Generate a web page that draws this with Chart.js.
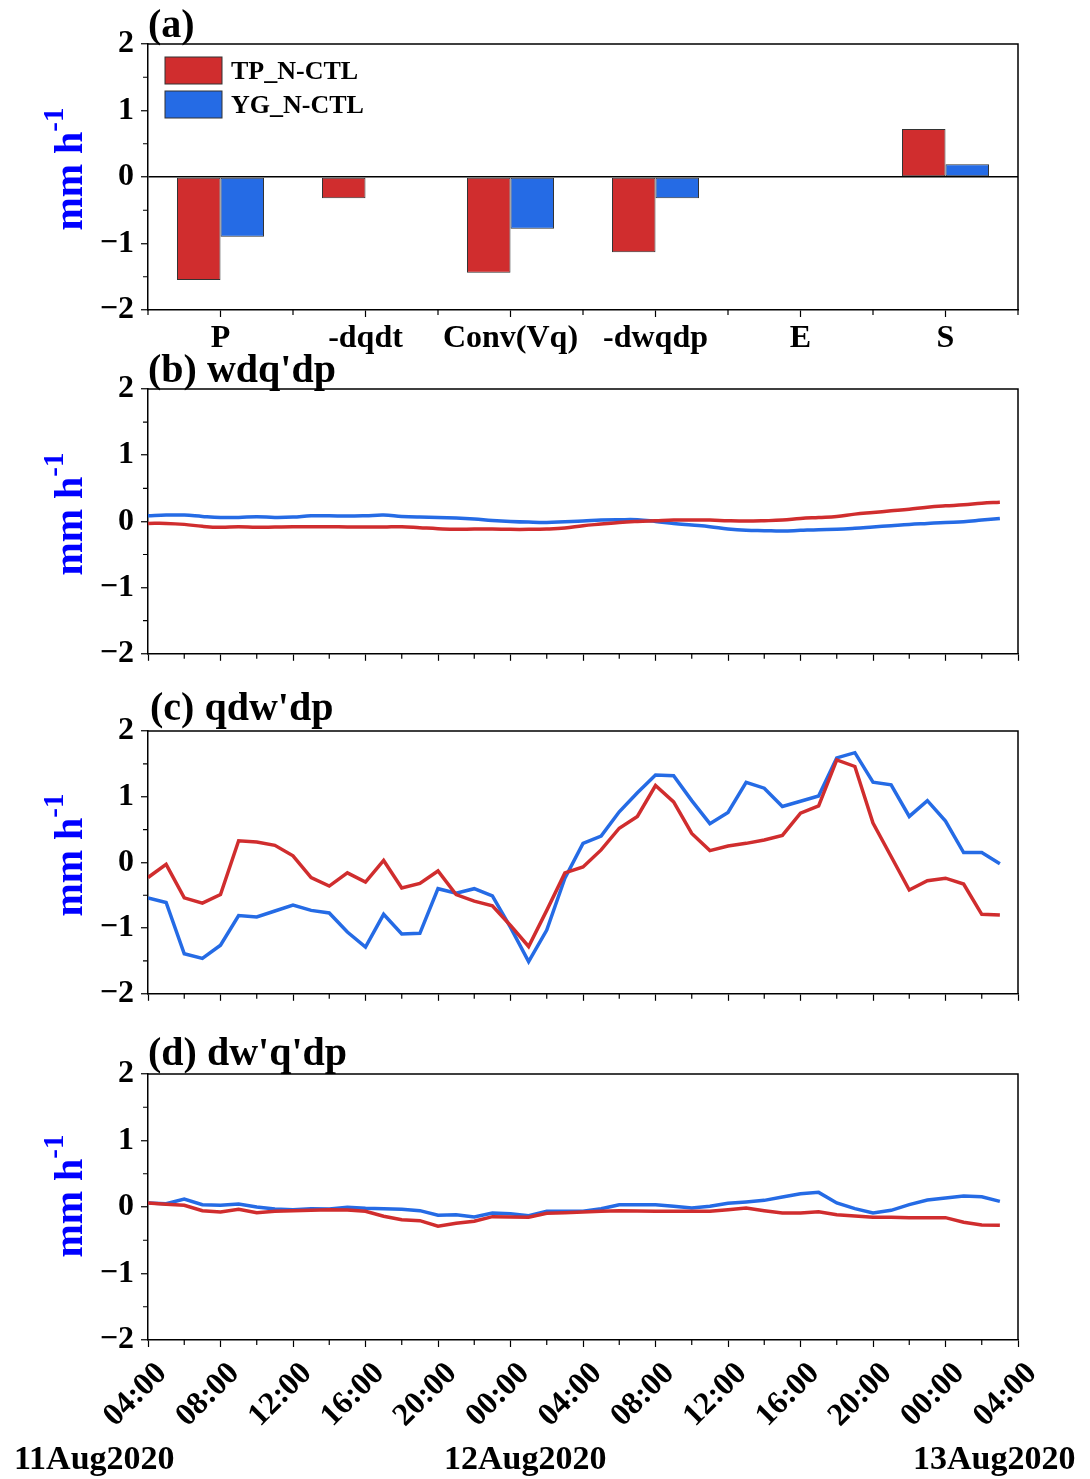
<!DOCTYPE html>
<html>
<head>
<meta charset="utf-8">
<script src="https://cdn.jsdelivr.net/npm/chart.js@4.4.1/dist/chart.umd.min.js"></script>
<style>
  body { margin: 0; background: #fff; }
  #page { position: relative; width: 1090px; height: 1479px; overflow: hidden;
          font-family: 'Liberation Serif', 'Times New Roman', serif; font-weight: bold; }
  .panel { position: absolute; left: 0; }
  .title { position: absolute; font-size: 40px; line-height: 40px; white-space: nowrap; color: #000; z-index: 2; }
  .ylab { position: absolute; width: 220px; height: 44px; line-height: 44px; text-align: center;
          font-size: 40px; color: #0000ff; white-space: nowrap; transform: rotate(-90deg); z-index: 2; }
  .ylab sup { font-size: 29px; line-height: 0; vertical-align: 19px; }
  .date { position: absolute; font-size: 34px; line-height: 34px; white-space: nowrap; z-index: 2; }
</style>
</head>
<body>
<div id="page">
  <div class="panel" style="top:0px"><canvas id="chartA" width="1090" height="360"></canvas></div>
  <div class="panel" style="top:360px"><canvas id="chartB" width="1090" height="320"></canvas></div>
  <div class="panel" style="top:690px"><canvas id="chartC" width="1090" height="330"></canvas></div>
  <div class="panel" style="top:1030px"><canvas id="chartD" width="1090" height="449"></canvas></div>

  <div class="title" style="left:148px; top:4px">(a)</div>
  <div class="title" style="left:148px; top:349px">(b) wdq'dp</div>
  <div class="title" style="left:150px; top:687px">(c) qdw'dp</div>
  <div class="title" style="left:148px; top:1032px">(d) dw'q'dp</div>

  <div class="ylab" style="left:-41px; top:147px">mm h<sup>-1</sup></div>
  <div class="ylab" style="left:-41px; top:492px">mm h<sup>-1</sup></div>
  <div class="ylab" style="left:-41px; top:833px">mm h<sup>-1</sup></div>
  <div class="ylab" style="left:-41px; top:1174px">mm h<sup>-1</sup></div>

  <div class="date" style="left:14px; top:1441px">11Aug2020</div>
  <div class="date" style="left:444px; top:1441px">12Aug2020</div>
  <div class="date" style="left:913px; top:1441px">13Aug2020</div>
</div>

<script>
// (a) budget terms, mean difference
const budgetTerms = ['P', '-dqdt', 'Conv(Vq)', '-dwqdp', 'E', 'S'];
const budgetTP    = [-1.55, -0.32, -1.44, -1.13, -0.01, 0.72];
const budgetYG    = [-0.90, -0.01, -0.78, -0.32, -0.01, 0.19];

// hourly series, 04:00 11Aug2020 .. 03:00 13Aug2020
const wdqTP = [-0.03, -0.03, -0.045, -0.075, -0.09, -0.08, -0.09, -0.085, -0.08, -0.08, -0.08, -0.085,
               -0.085, -0.085, -0.08, -0.095, -0.11, -0.12, -0.115, -0.115, -0.12, -0.12, -0.115, -0.10,
               -0.065, -0.04, -0.015, 0.0, 0.01, 0.02, 0.02, 0.02, 0.01, 0.005, 0.01, 0.02,
               0.045, 0.06, 0.075, 0.11, 0.135, 0.16, 0.185, 0.215, 0.235, 0.25, 0.275, 0.29];
const wdqYG = [0.085, 0.095, 0.095, 0.075, 0.06, 0.06, 0.07, 0.06, 0.065, 0.085, 0.085, 0.08,
               0.085, 0.095, 0.075, 0.065, 0.06, 0.05, 0.035, 0.015, 0.0, -0.01, -0.015, -0.005,
               0.005, 0.02, 0.025, 0.025, 0.0, -0.03, -0.055, -0.08, -0.115, -0.135, -0.14, -0.145,
               -0.135, -0.125, -0.12, -0.105, -0.085, -0.065, -0.045, -0.03, -0.015, -0.005, 0.02, 0.045];

const qdwTP = [-0.23, -0.03, -0.54, -0.62, -0.49, 0.33, 0.31, 0.26, 0.10, -0.23, -0.36, -0.16,
               -0.30, 0.03, -0.39, -0.32, -0.13, -0.49, -0.59, -0.66, -0.96, -1.28, -0.73, -0.16,
               -0.07, 0.19, 0.52, 0.70, 1.17, 0.92, 0.44, 0.18, 0.25, 0.29, 0.34, 0.41,
               0.75, 0.86, 1.56, 1.46, 0.60, 0.09, -0.42, -0.28, -0.24, -0.33, -0.79, -0.80];
const qdwYG = [-0.54, -0.61, -1.39, -1.46, -1.26, -0.81, -0.83, -0.74, -0.65, -0.73, -0.77, -1.06,
               -1.29, -0.79, -1.09, -1.08, -0.40, -0.47, -0.40, -0.51, -0.99, -1.51, -1.03, -0.24,
               0.29, 0.40, 0.77, 1.06, 1.33, 1.32, 0.94, 0.59, 0.76, 1.22, 1.13, 0.85,
               0.93, 1.01, 1.59, 1.67, 1.22, 1.18, 0.70, 0.94, 0.63, 0.15, 0.15, -0.02];

const dwqTP = [0.06, 0.04, 0.025, -0.055, -0.075, -0.035, -0.085, -0.065, -0.055, -0.05, -0.04, -0.045,
               -0.065, -0.14, -0.19, -0.205, -0.29, -0.245, -0.215, -0.145, -0.15, -0.155, -0.095, -0.085,
               -0.075, -0.065, -0.055, -0.06, -0.065, -0.065, -0.065, -0.065, -0.04, -0.015, -0.055, -0.09,
               -0.09, -0.07, -0.115, -0.135, -0.155, -0.155, -0.16, -0.16, -0.16, -0.23, -0.27, -0.275];
const dwqYG = [0.06, 0.05, 0.12, 0.035, 0.025, 0.045, 0.0, -0.03, -0.04, -0.025, -0.03, -0.005,
               -0.02, -0.025, -0.035, -0.055, -0.125, -0.115, -0.15, -0.09, -0.10, -0.13, -0.065, -0.065,
               -0.065, -0.025, 0.035, 0.035, 0.035, 0.01, -0.015, 0.01, 0.055, 0.075, 0.10, 0.15,
               0.20, 0.22, 0.06, -0.025, -0.09, -0.05, 0.035, 0.105, 0.135, 0.165, 0.155, 0.085];

const timeTicks      = ['04:00', '08:00', '12:00', '16:00', '20:00', '00:00', '04:00',
                        '08:00', '12:00', '16:00', '20:00', '00:00', '04:00'];
const hourMinorTicks = [2, 6, 10, 14, 18, 22, 26, 30, 34, 38, 42, 46];
const yMinorTicks    = [-1.5, -0.5, 0.5, 1.5];
const barMinorTicks  = [-0.5, 0.5, 1.5, 2.5, 3.5, 4.5, 5.5];

const RED  = '#D02D2E';
const BLUE = '#256BE5';

Chart.defaults.font.family = "'Liberation Serif', 'Times New Roman', serif";
Chart.defaults.font.weight = 'bold';
Chart.defaults.color = '#000';

const fmt = v => (v < 0 ? '\u2212' + Math.abs(v) : String(v));
const tickFont = { size: 32, weight: 'bold' };

// box around the plot area + short minor ticks
const framePlugin = {
    id: 'frame',
    afterDraw(chart, args, opts) {
        const { ctx, chartArea: a, scales } = chart;
        ctx.save();
        ctx.strokeStyle = '#000';
        ctx.lineWidth = 1.5;
        ctx.beginPath();
        ctx.moveTo(a.left, a.top);
        ctx.lineTo(a.right, a.top);
        ctx.lineTo(a.right, a.bottom);
        ctx.stroke();
        ctx.lineWidth = 1.2;
        ctx.beginPath();
        (opts.yMinor || []).forEach(v => {
            const p = scales.y.getPixelForValue(v);
            ctx.moveTo(a.left - 5, p); ctx.lineTo(a.left, p);
        });
        (opts.xMinor || []).forEach(v => {
            const p = scales.x.getPixelForValue(v);
            ctx.moveTo(p, a.bottom); ctx.lineTo(p, a.bottom + 5);
        });
        ctx.stroke();
        ctx.restore();
    }
};

// legend boxes inside the plot area (panel a)
const boxLegend = {
    id: 'boxLegend',
    afterDraw(chart, args, opts) {
        if (!opts.show) return;
        const { ctx, chartArea: a } = chart;
        ctx.save();
        ctx.font = "bold 26px 'Liberation Serif', 'Times New Roman', serif";
        ctx.textBaseline = 'middle';
        chart.data.datasets.forEach((ds, i) => {
            const x = a.left + 17, y = a.top + 13 + i * 34;
            ctx.fillStyle = ds.backgroundColor;
            ctx.fillRect(x, y, 57, 27);
            ctx.strokeStyle = '#333';
            ctx.lineWidth = 1;
            ctx.strokeRect(x, y, 57, 27);
            ctx.fillStyle = '#000';
            ctx.fillText(ds.label, x + 66, y + 15);
        });
        ctx.restore();
    }
};

function yAxis(zeroLine) {
    return {
        min: -2, max: 2,
        afterFit: s => { s.width = 148; },
        ticks: { stepSize: 1, font: tickFont, padding: 7, color: '#000', callback: fmt },
        grid: {
            drawOnChartArea: !!zeroLine,
            color: c => (c.tick && c.tick.value === 0 ? '#000' : 'rgba(0,0,0,0)'),
            lineWidth: 1.5,
            tickLength: 7, tickColor: '#000', tickWidth: 1.2,
        },
        border: { color: '#000', width: 1.5 },
    };
}

new Chart(document.getElementById('chartA').getContext('2d'), {
    type: 'bar',
    data: {
        labels: budgetTerms,
        datasets: [
            { label: 'TP_N-CTL', data: budgetTP, backgroundColor: RED,  borderColor: '#333', borderWidth: 1, borderSkipped: false },
            { label: 'YG_N-CTL', data: budgetYG, backgroundColor: BLUE, borderColor: '#333', borderWidth: 1, borderSkipped: false },
        ],
    },
    options: {
        responsive: false,
        animation: false,
        events: [],
        categoryPercentage: 0.6,
        barPercentage: 1.0,
        layout: { padding: { top: 44, right: 72, left: 0, bottom: 0 } },
        plugins: {
            legend: { display: false },
            tooltip: { enabled: false },
            frame: { yMinor: yMinorTicks, xMinor: barMinorTicks },
            boxLegend: { show: true },
        },
        scales: {
            x: {
                afterFit: s => { s.height = 50; },
                ticks: { font: tickFont, padding: 3, color: '#000', autoSkip: false, maxRotation: 0 },
                grid: { offset: false, drawOnChartArea: false, tickLength: 7, tickColor: '#000', tickWidth: 1.2 },
                border: { color: '#000', width: 1.5 },
            },
            y: yAxis(true),
        },
    },
    plugins: [framePlugin, boxLegend],
});

function lineChart(canvasId, tp, yg, cfg) {
    const pts = arr => arr.map((v, i) => ({ x: i, y: v }));
    return new Chart(document.getElementById(canvasId).getContext('2d'), {
        type: 'line',
        data: {
            datasets: [
                { label: 'TP_N-CTL', data: pts(tp), borderColor: RED,  borderWidth: 3.5, pointRadius: 0, tension: cfg.tension },
                { label: 'YG_N-CTL', data: pts(yg), borderColor: BLUE, borderWidth: 3.5, pointRadius: 0, tension: cfg.tension },
            ],
        },
        options: {
            responsive: false,
            animation: false,
            events: [],
            layout: { padding: { top: cfg.padTop, right: 72, left: 0, bottom: 0 } },
            plugins: {
                legend: { display: false },
                tooltip: { enabled: false },
                frame: { yMinor: yMinorTicks, xMinor: hourMinorTicks },
            },
            scales: {
                x: {
                    type: 'linear', min: 0, max: 48,
                    afterFit: s => { s.height = cfg.xHeight; },
                    ticks: {
                        display: cfg.labels, stepSize: 4, autoSkip: false,
                        minRotation: 45, maxRotation: 45, font: tickFont, padding: 8,
                        labelOffset: 14, color: '#000',
                        callback: v => timeTicks[v / 4],
                    },
                    grid: { drawOnChartArea: false, tickLength: 7, tickColor: '#000', tickWidth: 1.2 },
                    border: { color: '#000', width: 1.5 },
                },
                y: yAxis(false),
            },
        },
        plugins: [framePlugin],
    });
}

lineChart('chartB', wdqTP, wdqYG, { padTop: 29, xHeight: 25,  labels: false, tension: 0.4 });
lineChart('chartC', qdwTP, qdwYG, { padTop: 41, xHeight: 23,  labels: false, tension: 0 });
lineChart('chartD', dwqTP, dwqYG, { padTop: 44, xHeight: 139, labels: true,  tension: 0 });
</script>
</body>
</html>
